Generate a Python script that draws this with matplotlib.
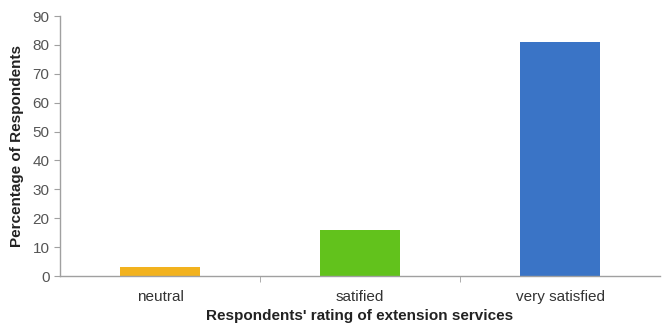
import matplotlib
matplotlib.use("Agg")
import matplotlib.pyplot as plt

categories = ["neutral", "satified", "very satisfied"]
values = [3, 16, 81]
colors = ["#F2B21E", "#62C21C", "#3A74C6"]
yticks = [0, 10, 20, 30, 40, 50, 60, 70, 80, 90]

plt.rcParams['font.family'] = ['Liberation Sans', 'DejaVu Sans']

fig = plt.figure(figsize=(6.62, 3.26), dpi=100)
ax = fig.add_axes([60/662, 50/326, 600/662, 260/326])

x = list(range(len(categories)))
ax.bar(x, values, width=0.4, color=colors, zorder=2)

ax.set_xlim(-0.5, len(categories) - 0.5)
ax.set_ylim(0, 90)
ax.set_yticks(yticks)
ax.set_xticks(x)
ax.set_xticklabels(categories)
ax.set_xticks([i + 0.5 for i in range(len(categories) - 1)], minor=True)

for s in ["top", "right"]:
    ax.spines[s].set_visible(False)
for s in ["left", "bottom"]:
    ax.spines[s].set_color("#A0A0A0")
    ax.spines[s].set_linewidth(1.0)

ax.tick_params(axis="y", colors="#A0A0A0", labelcolor="#555555", labelsize=11, length=4)
ax.tick_params(axis="x", which="major", length=0, labelcolor="#333333", labelsize=11, pad=10)
ax.tick_params(axis="x", which="minor", length=4, color="#A0A0A0")

ax.set_ylabel("Percentage of Respondents", fontsize=11, fontweight="bold", color="#222222", labelpad=6)
ax.set_xlabel("Respondents' rating of extension services", fontsize=11, fontweight="bold", color="#222222", labelpad=4)

fig.savefig("out.png", dpi=100)
